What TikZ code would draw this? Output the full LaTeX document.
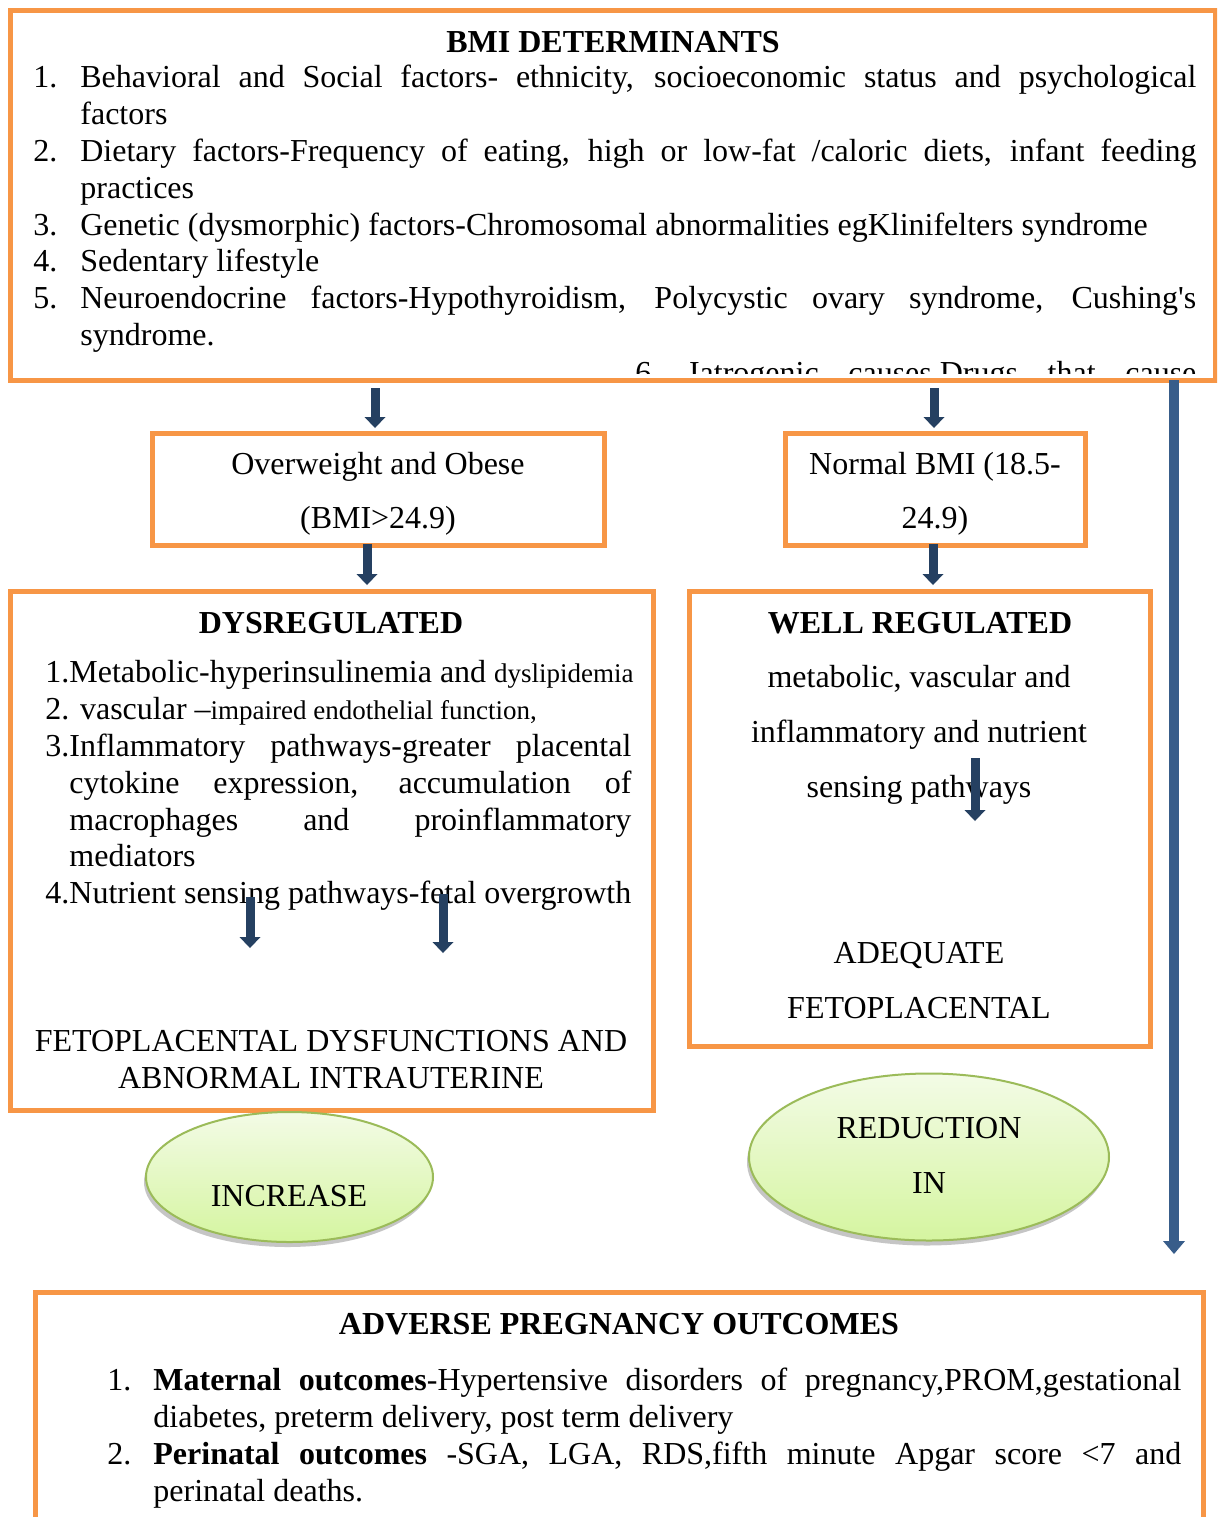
\documentclass[tikz,border=0pt]{standalone}
\usepackage{fontspec}
\setmainfont{Liberation Serif}[Ligatures=TeXOff]
\usetikzlibrary{arrows.meta,fit,shadows,shapes.geometric}
\definecolor{boxorange}{HTML}{F79646}
\definecolor{arrowblue}{HTML}{254061}
\definecolor{bigblue}{HTML}{385D8A}
\definecolor{ellborder}{HTML}{9BBB59}
\definecolor{elltop}{HTML}{F3FBE6}
\definecolor{ellbot}{HTML}{D5F5A0}
\newcommand\fsz{\fontsize{16}{18.4}\selectfont}
\newcommand\hitem[2]{\par\noindent\hangindent=#1\hangafter=1\makebox[#1][l]{\strut#2}\ignorespaces}
\newcommand\ditem{\par\noindent\hangindent=12pt\hangafter=1\strut\ignorespaces}
\begin{document}
\begin{tikzpicture}[x=0.5pt,y=-0.5pt,
  every node/.style={inner sep=0pt,font=\fsz},
  obox/.style={draw=boxorange,line width=2.5pt},
  barrow/.style={draw=arrowblue,line width=4.5pt,-{Triangle[width=10.5pt,length=5.5pt,line width=0pt]}},
  bigarrow/.style={draw=bigblue,line width=5pt,-{Triangle[width=11pt,length=6.5pt,line width=0pt]}},
  ell/.style={ellipse,draw=ellborder,line width=1pt,top color=elltop,bottom color=ellbot,
    drop shadow={shadow xshift=-1pt,shadow yshift=-2.5pt,fill=black!45}}]
\clip (0,0) rectangle (1217,1517);
\fill[white] (0,0) rectangle (1217,1517);

% ---------- top box ----------
\begin{scope}
\clip (10,10) rectangle (1215,373);
\node[anchor=base west] (l6) at (635,383) {\hbox to 280.5pt{6.\hfill Iatrogenic\hfill causes Drugs\hfill that\hfill cause}};
\end{scope}
\node[obox,fit={(10,10)(1215,380)}] (topbox) {};
\node[anchor=base] (toptitle) at (613,52) {\bfseries BMI DETERMINANTS};
\node[anchor=north west,text width=581.5pt,align=justify] (toplist) at (33,50.7) {%
\hitem{23.5pt}{1.}Behavioral and Social factors- ethnicity, socioeconomic status and psychological\linebreak factors
\hitem{23.5pt}{2.}Dietary factors-Frequency of eating, high or low-fat /caloric diets, infant feeding\linebreak practices
\hitem{23.5pt}{3.}Genetic (dysmorphic) factors-Chromosomal abnormalities egKlinifelters syndrome
\hitem{23.5pt}{4.}Sedentary lifestyle
\hitem{23.5pt}{5.}Neuroendocrine factors-Hypothyroidism, Polycystic ovary syndrome, Cushing's\linebreak syndrome.\par};

% ---------- BMI boxes ----------
\node[obox,fit={(152,433)(604,545)}] (owbox) {};
\node[anchor=base] (ow1) at (378,474) {Overweight and Obese};
\node[anchor=base] (ow2) at (378,528) {(BMI>24.9)};
\node[obox,fit={(785,433)(1085,545)}] (nbox) {};
\node[anchor=base] (nb1) at (935,474) {Normal BMI (18.5-};
\node[anchor=base] (nb2) at (935,528) {24.9)};

% ---------- dysregulated ----------
\node[obox,fit={(10,591)(653,1110)}] (dysbox) {};
\node[anchor=base] (dystitle) at (331,633) {\bfseries DYSREGULATED};
\node[anchor=north west,text width=293pt,align=justify] (dyslist) at (45,645.7) {%
\ditem \mbox{1.Metabolic-hyperinsulinemia and {\fontsize{13.5}{18.4}\selectfont dyslipidemia}}
\ditem \mbox{2. vascular –{\fontsize{13.5}{18.4}\selectfont impaired endothelial function,}}
\ditem 3.Inflammatory pathways-greater placental\linebreak cytokine expression, accumulation of\linebreak macrophages and proinflammatory\linebreak mediators
\ditem \mbox{4.Nutrient sensing pathways-fetal overgrowth}\par};
\node[anchor=base] (feto1) at (331,1051) {FETOPLACENTAL DYSFUNCTIONS AND};
\node[anchor=base] (feto2) at (331,1088) {ABNORMAL INTRAUTERINE};

% ---------- well regulated ----------
\node[obox,fit={(689,591)(1150,1046)}] (wellbox) {};
\node[anchor=base] (welltitle) at (920,633) {\bfseries WELL REGULATED};
\node[anchor=base] (w1) at (919,687) {metabolic, vascular and};
\node[anchor=base] (w2) at (919,742) {inflammatory and nutrient};
\node[anchor=base] (w3) at (919,797) {sensing pathways};
\node[anchor=base] (w4) at (919,963) {ADEQUATE};
\node[anchor=base] (w5) at (919,1018) {FETOPLACENTAL};

% ---------- ellipses ----------
\node[ell,minimum width=143.5pt,minimum height=65pt] (inc) at (289.5,1177) {};
\node[anchor=base] (inctext) at (289,1206) {INCREASE};
\node[ell,minimum width=180pt,minimum height=83.5pt] (red) at (929,1157) {};
\node[anchor=base] (red1) at (929,1138) {REDUCTION};
\node[anchor=base] (red2) at (929,1193) {IN};

% ---------- bottom box ----------
\node[obox,fit={(35,1292)(1203,1545)}] (botbox) {};
\node[anchor=base] (bottitle) at (619,1334) {\bfseries ADVERSE PREGNANCY OUTCOMES};
\node[anchor=north west,text width=537pt,align=justify] (botlist) at (107,1353.7) {%
\hitem{23pt}{1.}\textbf{Maternal outcomes}-Hypertensive disorders of pregnancy,PROM,gestational\linebreak diabetes, preterm delivery, post term delivery
\hitem{23pt}{2.}\textbf{Perinatal outcomes} -SGA, LGA, RDS,fifth minute Apgar score <7 and\linebreak perinatal deaths.\par};

% ---------- connectors ----------
\coordinate (ax1) at (375,0);
\coordinate (ax2) at (934,0);
\coordinate (ax3) at (367,0);
\coordinate (ax4) at (933,0);
\coordinate (bx) at (1174,0);
\draw[barrow] ([yshift=-2.75pt]topbox.south -| ax1) -- ([yshift=1.25pt]owbox.north -| ax1);
\draw[barrow] ([yshift=-2.75pt]topbox.south -| ax2) -- ([yshift=1.25pt]nbox.north -| ax2);
\draw[barrow] ([yshift=2pt]owbox.south -| ax3) -- ([yshift=1.75pt]dysbox.north -| ax3);
\draw[barrow] ([yshift=2pt]nbox.south -| ax4) -- ([yshift=1.75pt]wellbox.north -| ax4);
\coordinate (d1s) at (250,897);
\coordinate (d1e) at (250,948);
\coordinate (d2s) at (443,894);
\coordinate (d2e) at (443,953);
\coordinate (w1s) at (975,758);
\coordinate (w1e) at (975,821);
\draw[barrow] (d1s) -- (d1e);
\draw[barrow] (d2s) -- (d2e);
\draw[barrow] (w1s) -- (w1e);
\draw[bigarrow] ([yshift=1.25pt]topbox.south -| bx) -- ([yshift=17.75pt]botbox.north -| bx);
\end{tikzpicture}
\end{document}
